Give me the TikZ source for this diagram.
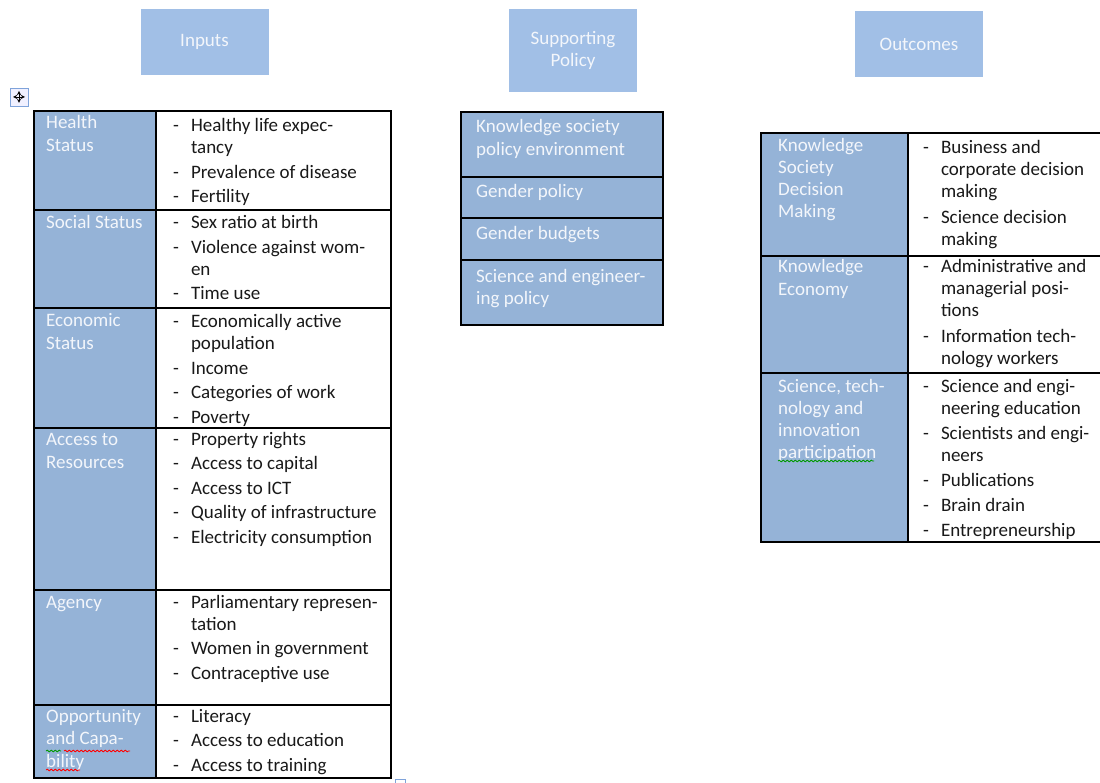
\documentclass[tikz,border=0pt]{standalone}
\usepackage{fontspec}
\setmainfont{Carlito}
\usetikzlibrary{decorations.pathmorphing}
\definecolor{headblue}{HTML}{A1BFE6}
\definecolor{cellblue}{HTML}{95B3D7}
\definecolor{paletext}{HTML}{F3F6FB}
\definecolor{handleblue}{HTML}{7FA3DA}
\newcommand{\dashlist}[1]{\begin{tabular}[t]{@{}l@{\hspace{12pt}}l@{}}#1\end{tabular}}
\newcommand{\textlines}[1]{\begin{tabular}[t]{@{}l@{}}#1\end{tabular}}

\begin{document}
\begin{tikzpicture}[x=1pt, y=-1pt,
    header/.style={fill=headblue, text=paletext, minimum width=128pt,
        align=center, font=\fontsize{19}{22}\selectfont},
    cell/.style={fill=cellblue, draw=black, line width=1.6pt},
    blank/.style={fill=white, draw=black, line width=1.6pt},
    label/.style={anchor=base west, inner sep=0pt, text=paletext,
        font=\fontsize{19}{23}\selectfont},
    items/.style={anchor=base west, inner sep=0pt, text=black!90,
        font=\fontsize{19}{22}\selectfont},
    squiggle/.style={decorate, decoration={snake, amplitude=0.9pt,
        segment length=4pt}, line width=0.8pt}
]
    \useasboundingbox (0,0) rectangle (1100,783);
    \clip (0,0) rectangle (1100,783);

    \node[header, minimum height=66pt] (inputs) at (204.5,42) {Inputs};
    \node[header, minimum height=83pt] (policy) at (573,50.5) {Supporting\\Policy};
    \node[header, minimum height=66pt] (outcomes) at (919,44) {Outcomes};

    % inputs table
    \foreach \top/\bot in {111/210, 210/308, 308/428, 428/590, 590/705, 705/778} {
        \draw[cell] (34,\top) rectangle (156,\bot);
        \draw[blank] (156,\top) rectangle (391,\bot);
    }
    \node[label] (health) at (46,129) {\textlines{Health\\Status}};
    \node[items] (healthlist) at (173,132) {\dashlist{- & Healthy life expec-\\ & tancy\\[2.5pt]
        - & Prevalence of disease\\[2.5pt] - & Fertility}};
    \node[label] (social) at (46,229) {\textlines{Social Status}};
    \node[items] (sociallist) at (173,229) {\dashlist{- & Sex ratio at birth\\[2.5pt]
        - & Violence against wom-\\ & en\\[2.5pt] - & Time use}};
    \node[label] (economic) at (46,327) {\textlines{Economic\\Status}};
    \node[items] (economiclist) at (173,328) {\dashlist{- & Economically active\\ & population\\[2.5pt]
        - & Income\\[2.5pt] - & Categories of work\\[2.5pt] - & Poverty}};
    \node[label] (access) at (46,445) {\textlines{Access to\\Resources}};
    \node[items] (accesslist) at (173,445) {\dashlist{- & Property rights\\[2.5pt]
        - & Access to capital\\[2.5pt] - & Access to ICT\\[2.5pt]
        - & Quality of infrastructure\\[2.5pt] - & Electricity consumption}};
    \node[label] (agency) at (46,608) {\textlines{Agency}};
    \node[items] (agencylist) at (173,608) {\dashlist{- & Parliamentary represen-\\ & tation\\[2.5pt]
        - & Women in government\\[2.5pt] - & Contraceptive use}};
    \node[label, font=\fontsize{19}{22.5}\selectfont] (opportunity) at (46,722)
        {\textlines{Opportunity\\and Capa-\\bility}};
    \node[items] (opportunitylist) at (173,722) {\dashlist{- & Literacy\\[2.5pt]
        - & Access to education\\[2.5pt] - & Access to training}};
    \draw[squiggle, green!60!black] (46,751) -- (61,751);
    \draw[squiggle, red] (64,751) -- (130,751);
    \draw[squiggle, red] (46,770) -- (80,770);

    % supporting policy table
    \foreach \top/\bot in {112/177, 177/218, 218/260, 260/325}
        \draw[cell] (461,\top) rectangle (663,\bot);
    \node[label] (kspolicy) at (476,133) {\textlines{Knowledge society\\policy environment}};
    \node[label] (genderpolicy) at (476,198) {\textlines{Gender policy}};
    \node[label] (genderbudgets) at (476,240) {\textlines{Gender budgets}};
    \node[label, font=\fontsize{19}{22}\selectfont] (sepolicy) at (476,283)
        {\textlines{Science and engineer-\\ing policy}};

    % outcomes table
    \foreach \top/\bot in {133/256, 256/373, 373/542} {
        \draw[cell] (761,\top) rectangle (908,\bot);
        \draw[blank] (908,\top) rectangle (1115,\bot);
    }
    \node[label, font=\fontsize{19}{22}\selectfont] (decision) at (778,152)
        {\textlines{Knowledge\\Society\\Decision\\Making}};
    \node[items] (decisionlist) at (923,154) {\dashlist{- & Business and\\ & corporate decision\\ & making\\[4pt]
        - & Science decision\\ & making}};
    \node[label] (economy) at (778,273) {\textlines{Knowledge\\Economy}};
    \node[items] (economylist) at (923,273) {\dashlist{- & Administrative and\\ & managerial posi-\\ & tions\\[4pt]
        - & Information tech-\\ & nology workers}};
    \node[label, font=\fontsize{19}{22}\selectfont] (sti) at (778,392)
        {\textlines{Science, tech-\\nology and\\innovation\\participation}};
    \node[items] (stilist) at (923,392) {\dashlist{- & Science and engi-\\ & neering education\\[3pt]
        - & Scientists and engi-\\ & neers\\[3pt] - & Publications\\[3pt] - & Brain drain\\[3pt]
        - & Entrepreneurship}};
    \draw[squiggle, green!60!black] (778,461) -- (874,461);

    % table handles
    \draw[handleblue, fill=blue!6, line width=0.8pt] (10,88) rectangle (28,106);
    \draw[<->, >=stealth, line width=0.9pt] (13,97) -- (25,97);
    \draw[<->, >=stealth, line width=0.9pt] (19,91) -- (19,103);
    \draw[handleblue, line width=1pt] (395,790) -- (395,779) -- (405,779) -- (405,790);
\end{tikzpicture}
\end{document}
